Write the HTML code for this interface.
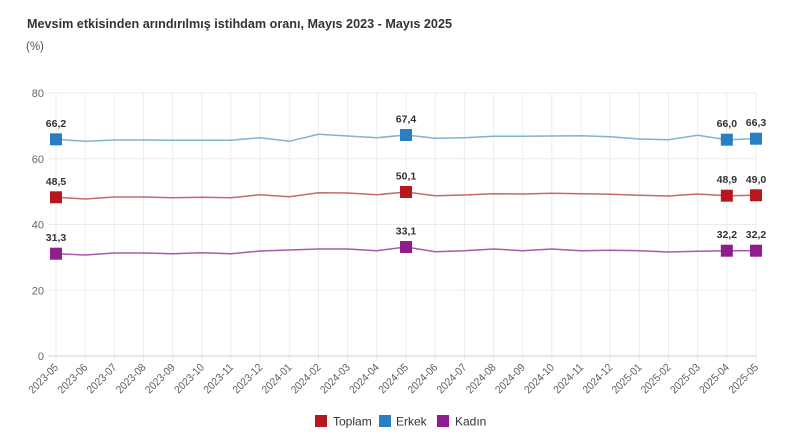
<!DOCTYPE html>
<html><head><meta charset="utf-8"><style>
html,body{margin:0;padding:0;background:#fff;}
svg{display:block;font-family:"Liberation Sans",Arial,sans-serif;}
</style></head><body>
<svg width="793" height="445" viewBox="0 0 793 445" xmlns="http://www.w3.org/2000/svg">
<rect width="793" height="445" fill="#fff"/>
<text x="27" y="28" font-size="13" font-weight="bold" fill="#333" textLength="425" lengthAdjust="spacingAndGlyphs">Mevsim etkisinden arındırılmış istihdam oranı, Mayıs 2023 - Mayıs 2025</text>
<text x="26" y="50" font-size="11.5" fill="#555">(%)</text>
<g stroke="#ebebeb" stroke-width="1">
<line x1="48" y1="93" x2="756" y2="93"/><line x1="48" y1="158.75" x2="756" y2="158.75"/><line x1="48" y1="224.5" x2="756" y2="224.5"/><line x1="48" y1="290.25" x2="756" y2="290.25"/>
</g>
<g stroke="#ececec" stroke-width="1" id="vg"></g>
<line x1="48" y1="356" x2="756" y2="356" stroke="#d0d0d0" stroke-width="1"/>
<g font-size="11" fill="#666" text-anchor="end">
<text x="44" y="97">80</text><text x="44" y="162.75">60</text><text x="44" y="228.5">40</text><text x="44" y="294.25">20</text><text x="44" y="360">0</text>
</g>
<g id="xl" font-size="11" fill="#5f5f5f" text-anchor="end"></g>
<g id="series"></g>
<g font-size="12" fill="#333">
<rect x="315" y="415" width="12" height="12" fill="#b5191e"/><text x="333" y="425.5">Toplam</text>
<rect x="379" y="415" width="12" height="12" fill="#2a7fc4"/><text x="396" y="425.5">Erkek</text>
<rect x="437" y="415" width="12" height="12" fill="#911c8c"/><text x="455" y="425.5">Kadın</text>
</g>
<script>
(function(){
var ns="http://www.w3.org/2000/svg";
function X(i){return 56+i*700/24;}
var labels=["2023-05","2023-06","2023-07","2023-08","2023-09","2023-10","2023-11","2023-12","2024-01","2024-02","2024-03","2024-04","2024-05","2024-06","2024-07","2024-08","2024-09","2024-10","2024-11","2024-12","2025-01","2025-02","2025-03","2025-04","2025-05"];
var vg=document.getElementById("vg"),xl=document.getElementById("xl");
for(var i=0;i<25;i++){
 var l=document.createElementNS(ns,"line");l.setAttribute("x1",X(i));l.setAttribute("x2",X(i));l.setAttribute("y1",93);l.setAttribute("y2",361);vg.appendChild(l);
 var t=document.createElementNS(ns,"text");t.setAttribute("transform","translate("+(X(i)+3)+",368) rotate(-45)");t.setAttribute("textLength","37");t.setAttribute("lengthAdjust","spacingAndGlyphs");t.textContent=labels[i];xl.appendChild(t);
}
var S=[
{line:"#7db4d0",mk:"#2a7fc4",y:[139.3,141.3,140,140,140.3,140.3,140.3,137.7,141.3,134.3,136,137.7,135,138.3,137.7,136.3,136.3,136,135.7,136.7,139,139.7,135.3,139.7,138.7],lab:{0:"66,2",12:"67,4",23:"66,0",24:"66,3"}},
{line:"#c56a6a",mk:"#b5191e",y:[197.3,199,197,197,197.7,197.3,197.7,194.7,196.7,192.7,193,194.7,192,195.7,195,193.7,194,193.3,193.7,194.3,195.3,196,194,195.7,195.3],lab:{0:"48,5",12:"50,1",23:"48,9",24:"49,0"}},
{line:"#a85aa8",mk:"#911c8c",y:[253.7,255,253,253,253.7,252.7,253.7,251,250,249,249,250.7,247,251.7,250.7,249,250.7,249,250.7,250.3,250.7,252,251.3,250.7,250.7],lab:{0:"31,3",12:"33,1",23:"32,2",24:"32,2"}}
];
var g=document.getElementById("series");
S.forEach(function(s){
 var d="";for(var i=0;i<25;i++){d+=(i?"L":"M")+X(i).toFixed(2)+","+s.y[i];}
 var p=document.createElementNS(ns,"path");p.setAttribute("d",d);p.setAttribute("fill","none");p.setAttribute("stroke",s.line);p.setAttribute("stroke-width","1.5");g.appendChild(p);
 for(var k in s.lab){var i=+k;
  var r=document.createElementNS(ns,"rect");r.setAttribute("x",X(i)-6);r.setAttribute("y",s.y[i]-6);r.setAttribute("width",12);r.setAttribute("height",12);r.setAttribute("fill",s.mk);g.appendChild(r);
  var t=document.createElementNS(ns,"text");t.setAttribute("x",X(i));t.setAttribute("y",s.y[i]-12.5);t.setAttribute("text-anchor","middle");t.setAttribute("font-size","10.5");t.setAttribute("font-weight","bold");t.setAttribute("fill","#333");t.textContent=s.lab[k];g.appendChild(t);
 }
});
})();
</script>
</svg>
</body></html>
